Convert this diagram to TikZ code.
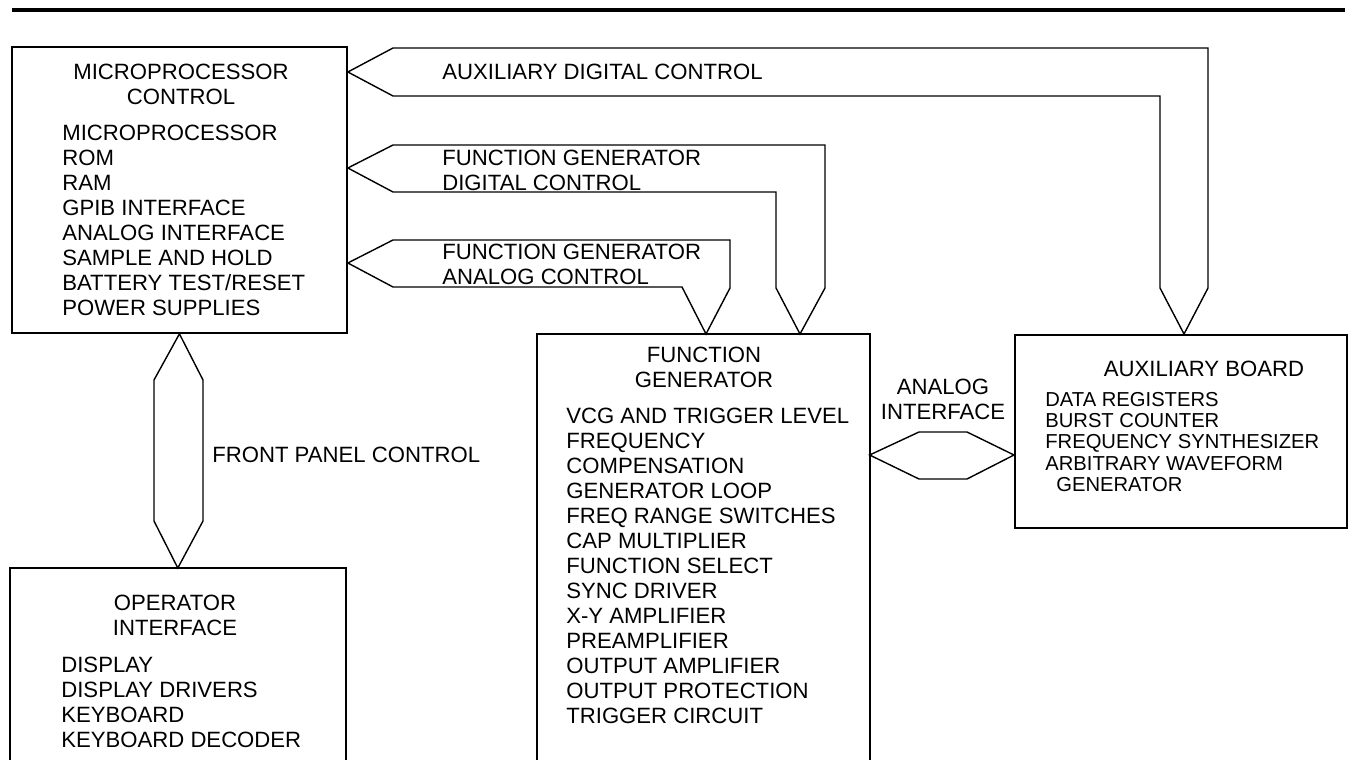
\documentclass[tikz,border=0pt]{standalone}
\usepackage{fontspec}
\setmainfont{Liberation Sans}
\usetikzlibrary{calc}

\begin{document}
\begin{tikzpicture}[x=0.02cm, y=-0.02cm]
  \tikzset{
    box_node/.style={draw, line width=1.1pt, inner sep=0pt, anchor=north west, minimum width=6.7cm},
    open_node/.style={inner sep=0pt, anchor=north west, minimum width=6.7cm},
    head_text/.style={inner sep=0pt, anchor=north, align=center, font=\fontsize{12.6}{14.23}\selectfont},
    list_text/.style={inner sep=0pt, anchor=north west, align=left, font=\fontsize{12.6}{14.23}\selectfont},
    bus_line/.style={line width=0.8pt, line join=miter}
  }

  % Marco de la figura
  \useasboundingbox (0,0) rectangle (1352,760);
  \coordinate (rule_l) at (12,10);
  \coordinate (rule_r) at (1345,10);
  \draw[line width=2pt] (rule_l) -- (rule_r);

  % Bloques
  \node[box_node, minimum height=5.72cm] (micro) at (11,46) {};
  \node[open_node, minimum height=3.84cm] (oper) at (10,568) {};
  \node[open_node, minimum width=6.64cm, minimum height=8.52cm] (fgen) at (537,334) {};
  \node[box_node, minimum width=6.64cm, minimum height=3.86cm] (aux) at (1014,334) {};

  % Bloques abiertos por abajo
  \draw[line width=1.1pt] (oper.south west) -- (oper.north west) -- (oper.north east) -- (oper.south east);
  \draw[line width=1.1pt] (fgen.south west) -- (fgen.north west) -- (fgen.north east) -- (fgen.south east);

  % Textos de los bloques
  \node[head_text] (micro_head) at (181,64) {MICROPROCESSOR\\CONTROL};
  \node[list_text] (micro_list) at (62,125) {MICROPROCESSOR\\ROM\\RAM\\GPIB INTERFACE\\ANALOG INTERFACE\\SAMPLE AND HOLD\\BATTERY TEST/RESET\\POWER SUPPLIES};

  \node[head_text] (oper_head) at (175,595) {OPERATOR\\INTERFACE};
  \node[list_text] (oper_list) at (61,657) {DISPLAY\\DISPLAY DRIVERS\\KEYBOARD\\KEYBOARD DECODER};

  \node[head_text] (fgen_head) at (704,347) {FUNCTION\\GENERATOR};
  \node[list_text] (fgen_list) at (566,408) {VCG AND TRIGGER LEVEL\\FREQUENCY\\COMPENSATION\\GENERATOR LOOP\\FREQ RANGE SWITCHES\\CAP MULTIPLIER\\FUNCTION SELECT\\SYNC DRIVER\\X-Y AMPLIFIER\\PREAMPLIFIER\\OUTPUT AMPLIFIER\\OUTPUT PROTECTION\\TRIGGER CIRCUIT};

  \node[head_text] (aux_head) at (1204,361) {AUXILIARY BOARD};
  \node[list_text, font=\fontsize{11.5}{12.09}\selectfont] (aux_list) at (1045,392) {DATA REGISTERS\\BURST COUNTER\\FREQUENCY SYNTHESIZER\\ARBITRARY WAVEFORM\\\hspace*{0.22cm}GENERATOR};

  % Buses
  \draw[bus_line] ($(micro.north east)+(0,26)$) -- (393,48) -- (1208,48) -- (1208,288)
    -- ($(aux.north west)+(170,0)$) -- (1160,288) -- (1160,96) -- (393,96) -- cycle;
  \draw[bus_line] ($(micro.north east)+(0,122)$) -- (393,145) -- (825,145) -- (825,288)
    -- ($(fgen.north west)+(263,0)$) -- (776,288) -- (776,192) -- (393,192) -- cycle;
  \draw[bus_line] ($(micro.north east)+(0,217)$) -- (393,240) -- (730,240) -- (730,288)
    -- ($(fgen.north west)+(169,0)$) -- (682,287) -- (393,287) -- cycle;
  \draw[bus_line] (micro.south) -- (154,380) -- (154,521) -- (oper.north)
    -- (203,521) -- (203,380) -- cycle;
  \draw[bus_line] ($(fgen.north east)+(0,121)$) -- (919,432) -- (967,432)
    -- ($(aux.north west)+(0,121)$) -- (967,479) -- (919,479) -- cycle;

  % Etiquetas de los buses
  \node[list_text, anchor=west] (lbl_auxdig) at (442,72) {AUXILIARY DIGITAL CONTROL};
  \node[list_text] (lbl_fgdig) at (442,150) {FUNCTION GENERATOR\\DIGITAL CONTROL};
  \node[list_text] (lbl_fgana) at (442,244) {FUNCTION GENERATOR\\ANALOG CONTROL};
  \node[list_text, anchor=west] (lbl_front) at (212,455) {FRONT PANEL CONTROL};
  \node[head_text] (lbl_analog) at (943,379) {ANALOG\\INTERFACE};
\end{tikzpicture}
\end{document}
